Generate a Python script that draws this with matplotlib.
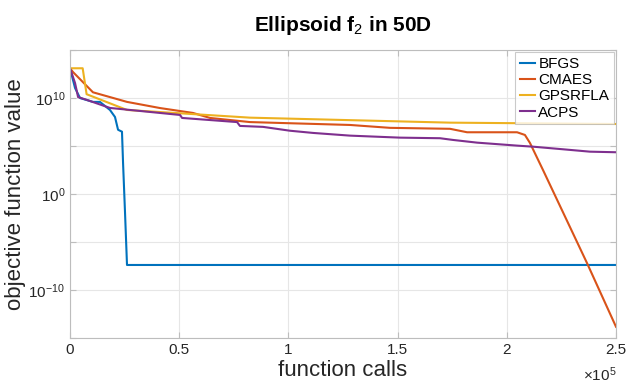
import numpy as np
import matplotlib
matplotlib.use("Agg")
import matplotlib.pyplot as plt

plt.rcParams['font.family'] = ['Liberation Sans', 'DejaVu Sans']
plt.rcParams['mathtext.fontset'] = 'custom'
plt.rcParams['mathtext.rm'] = 'Liberation Sans'
plt.rcParams['mathtext.it'] = 'Liberation Sans:italic'
plt.rcParams['mathtext.bf'] = 'Liberation Sans:bold'

# x in units of 1e5 function calls, y as log10(objective value)
bfgs_x = [0, 0.023, 0.046, 0.105, 0.137, 0.183, 0.206, 0.220, 0.238, 0.243, 0.252, 0.261, 2.5]
bfgs_y = [13.1, 11.05, 10.0, 9.6, 9.6, 8.76, 8.03, 6.7, 6.5, 3.2, -1.96, -7.37, -7.37]

cmaes_x = [0, 0.014, 0.105, 0.261, 0.412, 0.563, 0.641, 0.824, 0.975, 1.282, 1.465, 1.740,
           1.818, 2.047, 2.083, 2.106, 2.166, 2.367, 2.5]
cmaes_y = [13.1, 12.7, 10.6, 9.6, 8.96, 8.45, 7.93, 7.5, 7.4, 7.2, 6.9, 6.8,
           6.44, 6.44, 6.16, 5.33, 2.5, -7.16, -13.8]

gps_x = [0, 0.058, 0.076, 0.261, 0.824, 1.74, 2.5]
gps_y = [13.1, 13.1, 10.4, 8.76, 7.96, 7.44, 7.3]

acps_x = [0, 0.023, 0.037, 0.078, 0.183, 0.504, 0.513, 0.765, 0.778, 0.884, 1.007, 1.113,
          1.282, 1.511, 1.694, 1.754, 1.864, 2.047, 2.12, 2.257, 2.381, 2.5]
acps_y = [13.1, 11.57, 10.1, 9.8, 8.97, 8.24, 7.93, 7.5, 7.1, 7.0, 6.6, 6.37,
          6.09, 5.88, 5.82, 5.64, 5.36, 5.05, 4.94, 4.67, 4.42, 4.36]

names = ['BFGS', 'CMAES', 'GPSRFLA', 'ACPS']
colors = ['#0072BD', '#D95319', '#EDB120', '#7E2F8E']
series = [(bfgs_x, bfgs_y), (cmaes_x, cmaes_y), (gps_x, gps_y), (acps_x, acps_y)]

fig = plt.figure(figsize=(6.27, 3.86), dpi=100)
ax = fig.add_axes([70/627, 1-338.3/386, 546/627, 288.3/386])

for (xs, ys), name, c in zip(series, names, colors):
    ax.semilogy(np.array(xs) * 1e5, 10.0 ** np.array(ys), color=c, lw=1.5, label=name)

ax.set_xlim(0, 2.5e5)
ax.set_ylim(1e-15, 1e15)
ax.set_xticks([0, 0.5e5, 1e5, 1.5e5, 2e5, 2.5e5])
ax.set_xticklabels(['0', '0.5', '1', '1.5', '2', '2.5'])
yt = [-15, -10, -5, 0, 5, 10, 15]
ax.set_yticks([10.0 ** e for e in yt])
ax.set_yticklabels([f'$10^{{{e}}}$' if e in (-10, 0, 10) else '' for e in yt])
ax.minorticks_off()

ax.grid(True, color='#e6e6e6', lw=0.8)
ax.set_axisbelow(True)
for s in ax.spines.values():
    s.set_color('#bdbdbd')
    s.set_linewidth(0.8)
ax.tick_params(direction='in', colors='#bdbdbd', labelcolor='#262626', labelsize=11,
               top=True, right=True, length=4)

ax.set_xlabel('function calls', fontsize=16, color='#262626', labelpad=2)
ax.set_ylabel('objective function value', fontsize=16, color='#262626', labelpad=2)
ax.set_title('Ellipsoid f$_2$ in 50D', fontsize=15, fontweight='bold', pad=14)
ax.text(1.0, -0.095, r'$\times10^5$', transform=ax.transAxes, ha='right', va='top',
        fontsize=11, color='#262626')

leg = ax.legend(loc='upper right', fontsize=11, handlelength=1.0, handletextpad=0.2,
                borderpad=0.3, labelspacing=0.15, fancybox=False, borderaxespad=0.15)
leg.get_frame().set_edgecolor('#bdbdbd')
leg.get_frame().set_linewidth(0.8)

fig.savefig('out.png', dpi=100)
